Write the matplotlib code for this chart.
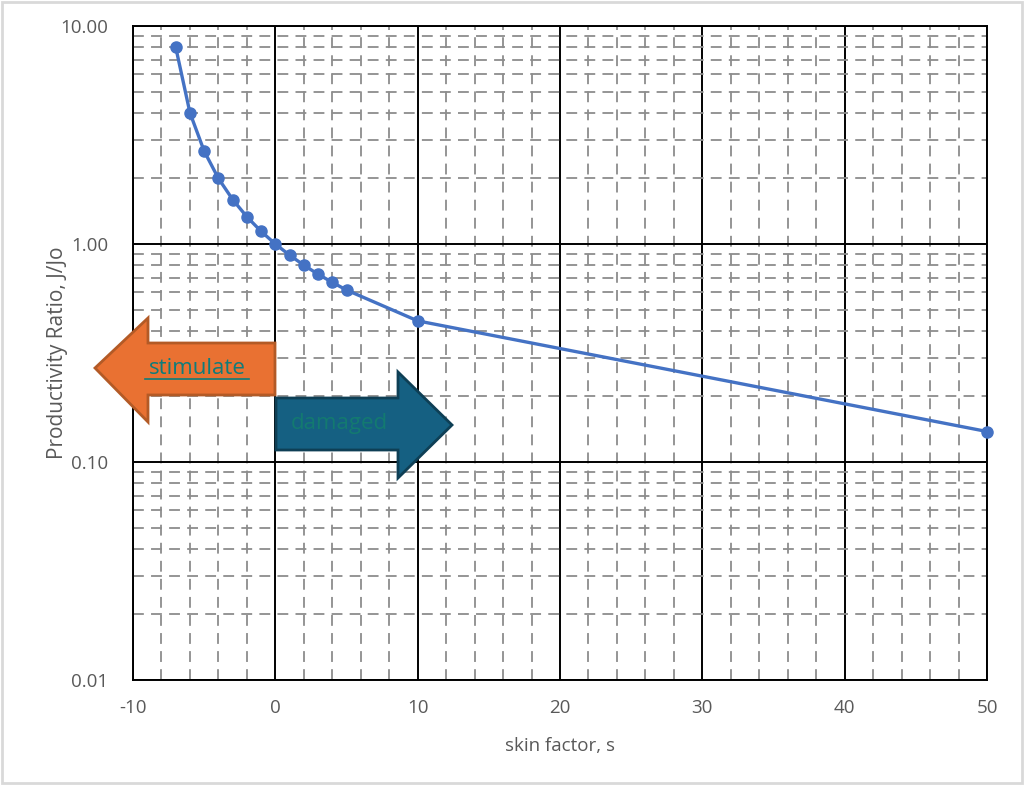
import numpy as np
import matplotlib
matplotlib.use("Agg")
import matplotlib.pyplot as plt
from matplotlib.patches import Polygon, Rectangle
from matplotlib.ticker import MultipleLocator, LogLocator, FixedLocator, NullFormatter

plt.rcParams["axes.unicode_minus"] = False
plt.rcParams["font.family"] = ["Open Sans", "DejaVu Sans"]

# data
skin = [-7, -6, -5, -4, -3, -2, -1, 0, 1, 2, 3, 4, 5, 10, 50]
ratio = [8.0, 4.0, 2.667, 2.0, 1.6, 1.333, 1.143, 1.0, 0.889, 0.8, 0.727, 0.667, 0.615, 0.444, 0.138]
y_ticks = [0.01, 0.1, 1.0, 10.0]
y_tick_labels = ["0.01", "0.10", "1.00", "10.00"]
x_ticks = [-10, 0, 10, 20, 30, 40, 50]
x_tick_labels = ["-10", "0", "10", "20", "30", "40", "50"]

W, H = 1024, 785
fig = plt.figure(figsize=(W / 100, H / 100), dpi=100)
ax = fig.add_axes([133 / W, 1 - 680 / H, (987 - 133) / W, (680 - 26) / H])

ax.set_yscale("log")
ax.set_xlim(-10, 50)
ax.set_ylim(0.01, 10)

ax.xaxis.set_major_locator(FixedLocator(x_ticks))
ax.set_xticklabels(x_tick_labels)
ax.xaxis.set_minor_locator(MultipleLocator(2))
ax.yaxis.set_major_locator(FixedLocator(y_ticks))
ax.yaxis.set_minor_locator(LogLocator(base=10, subs=np.arange(2, 10)))
ax.yaxis.set_minor_formatter(NullFormatter())
ax.set_yticklabels(y_tick_labels)

ax.grid(which="minor", color="#8c8c8c", linestyle=(0, (6, 4)), linewidth=1.3, zorder=0)
ax.grid(which="major", color="black", linestyle="-", linewidth=1.4, zorder=1)
ax.set_axisbelow(True)
for s in ax.spines.values():
    s.set_color("black")
    s.set_linewidth(1.4)
ax.tick_params(which="both", length=0, labelsize=13.5, colors="#595959")
ax.tick_params(axis="x", pad=14)
ax.tick_params(axis="y", pad=18)

ax.plot(skin, ratio, color="#4472C4", linewidth=2.4, marker="o", markersize=8, zorder=4, clip_on=False)

ax.set_xlabel("skin factor, s", fontsize=13.5, color="#595959", labelpad=14)
ax.set_ylabel("Productivity Ratio, J/Jo", fontsize=15, color="#595959", labelpad=-6)


def px(pts):
    return [(x / W, 1 - y / H) for x, y in pts]


# stimulate arrow (pointing left)
orange = px([(95, 368), (148, 318), (148, 343), (275, 343), (275, 395),
             (148, 395), (148, 422)])
fig.patches.append(Polygon(orange, closed=True, transform=fig.transFigure,
                           facecolor="#E97132", edgecolor="#B35A26", linewidth=2, zorder=5))
fig.text(197 / W, 1 - 368 / H, "stimulate", ha="center", va="center", fontsize=16,
         color="#0E7C7B", zorder=6)
fig.add_artist(plt.Line2D([145 / W, 249 / W], [1 - 379 / H, 1 - 379 / H],
                          color="#0E7C7B", linewidth=1.2, transform=fig.transFigure, zorder=6))

# damaged arrow (pointing right)
teal = px([(276, 398), (398, 398), (398, 372), (452, 425), (398, 478),
           (398, 450), (276, 450)])
fig.patches.append(Polygon(teal, closed=True, transform=fig.transFigure,
                           facecolor="#156082", edgecolor="#0E3F55", linewidth=2, zorder=5))
fig.text(339 / W, 1 - 424 / H, "damaged", ha="center", va="center", fontsize=16,
         color="#137A70", zorder=6)

# outer chart border
fig.patches.append(Rectangle((0.002, 0.002), 0.996, 0.996, transform=fig.transFigure,
                             fill=False, edgecolor="#d9d9d9", linewidth=2))

fig.savefig("out.png", dpi=100, facecolor="white")
